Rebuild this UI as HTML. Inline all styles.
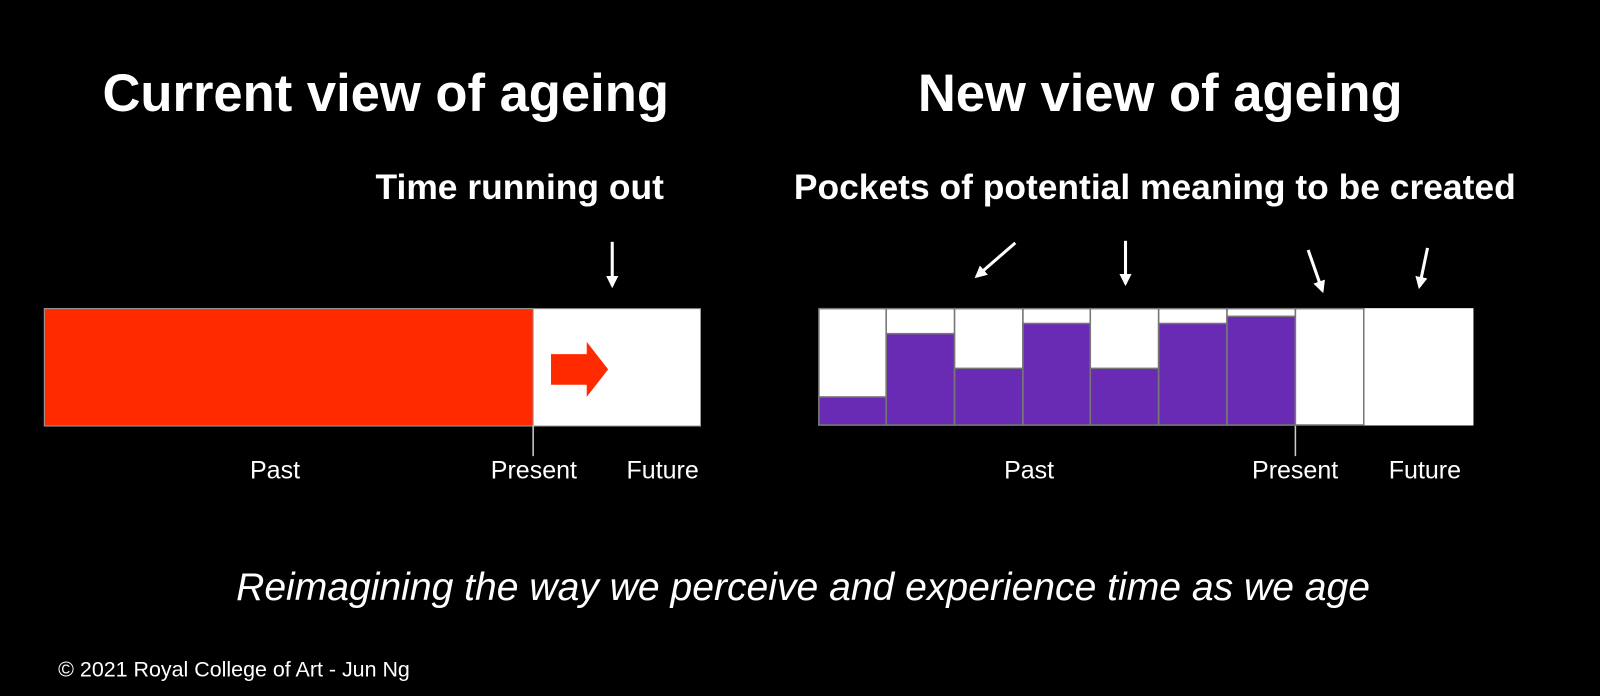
<!DOCTYPE html>
<html><head><style>
body{margin:0;width:1600px;height:696px;background:#000;overflow:hidden;font-family:"Liberation Sans",Arial,sans-serif;color:#fff;position:relative}
#w{position:absolute;left:0;top:0;width:1568px;height:682px;transform:scale(1.0204);transform-origin:0 0}
.t{position:absolute;white-space:nowrap}
</style></head><body><div id="w">
<div class="t" style="left:0;width:756px;text-align:center;top:61px;font-size:51.5px;font-weight:bold">Current view of ageing</div>
<div class="t" style="left:837px;width:600px;text-align:center;top:61px;font-size:51.5px;font-weight:bold">New view of ageing</div>
<div class="t" style="left:368px;top:165px;font-size:34.7px;font-weight:bold">Time running out</div>
<div class="t" style="left:778px;top:165px;font-size:34.7px;font-weight:bold">Pockets of potential meaning to be created</div>
<div class="t" style="left:245px;top:448px;font-size:24.5px">Past</div>
<div class="t" style="left:481px;top:448px;font-size:24.5px">Present</div>
<div class="t" style="left:614px;top:448px;font-size:24.5px">Future</div>
<div class="t" style="left:984px;top:448px;font-size:24.5px">Past</div>
<div class="t" style="left:1227px;top:448px;font-size:24.5px">Present</div>
<div class="t" style="left:1361px;top:448px;font-size:24.5px">Future</div>
<div class="t" style="left:0;width:1574px;text-align:center;top:554px;font-size:38.3px;font-style:italic">Reimagining the way we perceive and experience time as we age</div>
<div class="t" style="left:57px;top:645px;font-size:21px">© 2021 Royal College of Art - Jun Ng</div>
<svg width="1568" height="682" style="position:absolute;left:0;top:0">
<defs><marker id="a" viewBox="0 0 10 10" refX="8" refY="5" markerWidth="4" markerHeight="5" orient="auto"><path d="M0,0L10,5L0,10z" fill="#fff"/></marker></defs>
<rect x="43.5" y="302.5" width="643" height="115" fill="#fff" stroke="#999"/>
<rect x="43.5" y="302.5" width="479" height="115" fill="#ff2a00" stroke="#999"/>
<path d="M540,347h35v-12l21,27l-21,27v-12h-35z" fill="#ff2a00"/>
<line x1="522.5" y1="417" x2="522.5" y2="447" stroke="#ccc" stroke-width="1.5"/>
<line x1="1269.5" y1="417" x2="1269.5" y2="447" stroke="#ccc" stroke-width="1.5"/>
<g stroke="#fff" stroke-width="3" fill="none" marker-end="url(#a)">
<line x1="600" y1="237" x2="600" y2="280"/>
<line x1="995" y1="238" x2="957" y2="271"/>
<line x1="1103" y1="236" x2="1103" y2="278"/>
<line x1="1282" y1="245" x2="1296" y2="285"/>
<line x1="1399" y1="243" x2="1391" y2="281"/>
</g>
<rect x="1336" y="302" width="108" height="115" fill="#fff"/>
<g stroke="#777" stroke-width="1.5">
<rect x="802.5" y="302.5" width="66" height="114" fill="#fff"/><rect x="802.5" y="389" width="66" height="27.5" fill="#6a2bb4"/>
<rect x="868.5" y="302.5" width="67" height="114" fill="#fff"/><rect x="868.5" y="327" width="67" height="89.5" fill="#6a2bb4"/>
<rect x="935.5" y="302.5" width="67" height="114" fill="#fff"/><rect x="935.5" y="361" width="67" height="55.5" fill="#6a2bb4"/>
<rect x="1002.5" y="302.5" width="66" height="114" fill="#fff"/><rect x="1002.5" y="317" width="66" height="99.5" fill="#6a2bb4"/>
<rect x="1068.5" y="302.5" width="67" height="114" fill="#fff"/><rect x="1068.5" y="361" width="67" height="55.5" fill="#6a2bb4"/>
<rect x="1135.5" y="302.5" width="67" height="114" fill="#fff"/><rect x="1135.5" y="317" width="67" height="99.5" fill="#6a2bb4"/>
<rect x="1202.5" y="302.5" width="67" height="114" fill="#fff"/><rect x="1202.5" y="310" width="67" height="106.5" fill="#6a2bb4"/>
<rect x="1269.5" y="302.5" width="67" height="114" fill="#fff"/>
</g>
</svg>
</div></body></html>
